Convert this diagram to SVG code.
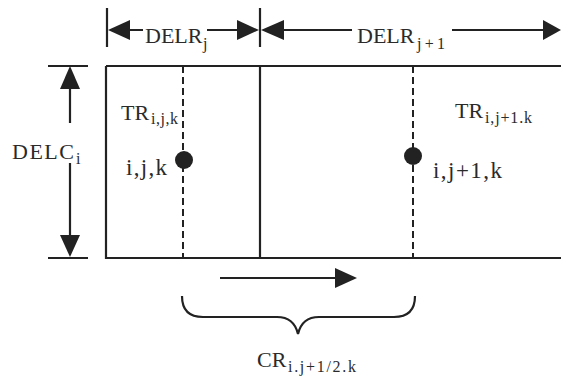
<svg xmlns="http://www.w3.org/2000/svg" width="561" height="379" viewBox="0 0 561 379">
<style>
.ln{stroke:#222;stroke-width:2.2;fill:none}
.ds{stroke:#222;stroke-width:2;fill:none;stroke-dasharray:7 4}
.ah{fill:#222;stroke:none}
text{font-family:"Liberation Serif","Times New Roman",serif;fill:#2a2a2a}
.t{font-size:22px}
.m{font-size:23px}
.s{font-size:16px}
</style>
<rect width="561" height="379" fill="#fff"/>
<g id="grid">
<path class="ln" d="M106,66 H561 M106,66 V258 H561 M260,66 V258"/>
<path class="ds" d="M183,66 V258 M413,66 V258"/>
</g>
<g id="delr-j">
<path class="ln" d="M107,8 V47 M260,8 V47 M128,30 H143 M207,30 H240"/>
<polygon class="ah" points="108,30 130,20 130,40"/>
<polygon class="ah" points="259,30 237,20 237,40"/>
<text x="145" y="43" class="t">DELR</text>
<text x="203" y="49" class="s">j</text>
</g>
<g id="delr-j1">
<path class="ln" d="M282,30 H352 M452,30 H545"/>
<polygon class="ah" points="261,30 284,20 284,40"/>
<polygon class="ah" points="561,30 543,20 543,40"/>
<text x="357" y="43" class="t">DELR</text>
<text x="417" y="49" class="s" textLength="28">j+1</text>
</g>
<g id="delc-i">
<path class="ln" d="M48,66 H88 M48,258 H88 M70,86 V123 M70,163 V238"/>
<polygon class="ah" points="70,66 60,89 80,89"/>
<polygon class="ah" points="70,257 60,235 80,235"/>
<text x="12" y="159" class="t" textLength="62">DELC</text>
<text x="76" y="164" class="s">i</text>
</g>
<g id="node-ijk">
<circle cx="184" cy="160" r="9" fill="#222"/>
<text x="121" y="120" class="t">TR</text>
<text x="151" y="124" class="s" textLength="27">i,j,k</text>
<text x="126" y="175" class="m" textLength="41">i,j,k</text>
</g>
<g id="node-ij1k">
<circle cx="413" cy="156" r="9" fill="#222"/>
<text x="455" y="118" class="t">TR</text>
<text x="485" y="123" class="s" textLength="47">i,j+1.k</text>
<text x="433" y="178" class="m" textLength="69">i,j+1,k</text>
</g>
<g id="connectors">
<path class="ln" d="M220,278 H338"/>
<polygon class="ah" points="357,278 335,268 335,288"/>
<path class="ln" d="M182,296 Q182,317 203,317 L277,317 Q294,317 298,334 Q302,317 319,317 L394,317 Q415,317 415,296"/>
</g>
<g id="cr">
<text x="257" y="367" class="t">CR</text>
<text x="288" y="372" class="s" font-size="17" textLength="68">i.j+1/2.k</text>
</g>
</svg>
